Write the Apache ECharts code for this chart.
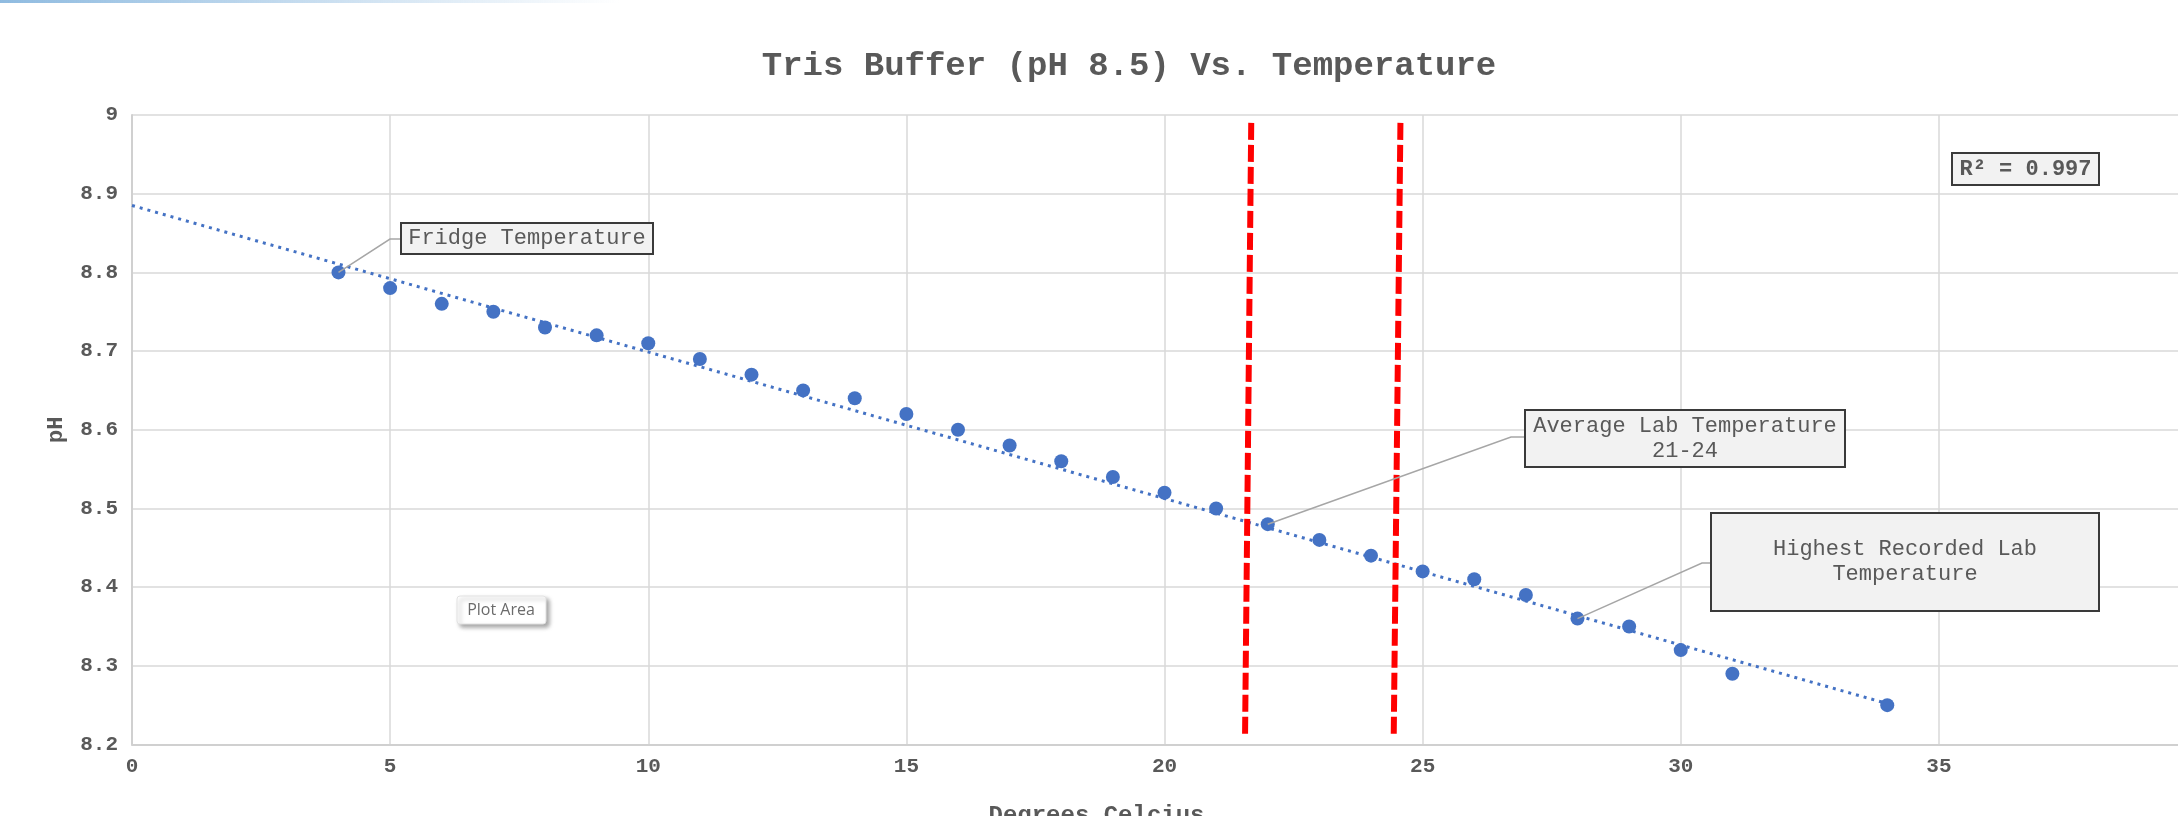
<!DOCTYPE html>
<html>
<head>
<meta charset="utf-8">
<style>
html, body { margin: 0; padding: 0; background: #fff; }
#main { width: 2178px; height: 816px; }
</style>
<script src="https://cdn.jsdelivr.net/npm/echarts@6/dist/echarts.min.js"></script>
</head>
<body>
<div id="main"></div>
<script>
// measured points: temperature (C) and pH
var tempC = [4, 5, 6, 7, 8, 9, 10, 11, 12, 13, 14, 15, 16, 17, 18, 19, 20, 21, 22, 23, 24, 25, 26, 27, 28, 29, 30, 31, 34];
var phValues = [8.80, 8.78, 8.76, 8.75, 8.73, 8.72, 8.71, 8.69, 8.67, 8.65, 8.64, 8.62, 8.60, 8.58, 8.56, 8.54, 8.52, 8.50,
    8.48, 8.46, 8.44, 8.42, 8.41, 8.39, 8.36, 8.35, 8.32, 8.29, 8.25];

// linear trendline ends
var trendTemp = [0, 34];
var trendPH = [8.885, 8.252];

// hand drawn red lab range lines (top end, bottom end)
var labLowTemp = [21.68, 21.56];
var labHighTemp = [24.57, 24.44];
var labLinePH = [8.99, 8.21];

// callouts: text and the point they point at
var calloutText = ['Fridge Temperature', 'Average Lab Temperature\n21-24', 'Highest Recorded Lab\nTemperature'];
var calloutTemp = [4, 22, 28];
var rSquared = 'R\u00b2 = 0.997';

var mono = '"Liberation Mono", "Courier New", monospace';
var grey = '#595959';
var blue = '#4472C4';

var chartDom = document.getElementById('main');
var myChart = echarts.init(chartDom);

function pairs(xs, ys) {
    return xs.map(function (x, i) { return [x, ys[i]]; });
}

var option = {
    animation: false,
    title: {
        text: 'Tris Buffer (pH 8.5) Vs. Temperature',
        left: 1124,
        top: 44,
        textAlign: 'center',
        textStyle: { fontFamily: mono, fontSize: 34, fontWeight: 'bold', color: grey }
    },
    // plot runs past the right edge of the window (cropped screenshot)
    grid: { left: 132, top: 115, right: -19, bottom: 71.5, containLabel: false, outerBoundsMode: 'none' },
    xAxis: {
        type: 'value',
        min: 0,
        max: 40,
        interval: 5,
        name: 'Degrees Celcius',
        nameLocation: 'middle',
        nameGap: 59,
        nameTextStyle: { fontFamily: mono, fontSize: 24, fontWeight: 'bold', color: grey, padding: [0, 136, 0, 0] },
        axisLine: { show: true, lineStyle: { color: '#d0d0d0', width: 2 } },
        axisTick: { show: false },
        axisLabel: { margin: 12, fontFamily: mono, fontSize: 21, fontWeight: 'bold', color: grey },
        splitLine: { show: true, lineStyle: { color: '#d9d9d9', width: 1.5 } }
    },
    yAxis: {
        type: 'value',
        min: 8.2,
        max: 9,
        interval: 0.1,
        name: 'pH',
        nameLocation: 'middle',
        nameGap: 65,
        nameTextStyle: { fontFamily: mono, fontSize: 22, fontWeight: 'bold', color: grey },
        axisLine: { show: true, lineStyle: { color: '#d0d0d0', width: 2 } },
        axisTick: { show: false },
        axisLabel: {
            margin: 14, fontFamily: mono, fontSize: 21, fontWeight: 'bold', color: grey,
            formatter: function (v) { return String(Math.round(v * 10) / 10); }
        },
        splitLine: { show: true, lineStyle: { color: '#d9d9d9', width: 1.5 } }
    },
    series: [{
        name: 'pH',
        type: 'scatter',
        data: pairs(tempC, phValues),
        symbolSize: 14,
        itemStyle: { color: blue, opacity: 1 },
        z: 4
    }, {
        name: 'trend',
        type: 'line',
        data: pairs(trendTemp, trendPH),
        symbol: 'none',
        lineStyle: { color: blue, width: 3, type: [3, 5] },
        z: 3
    }, {
        name: 'lab low',
        type: 'line',
        data: pairs(labLowTemp, labLinePH),
        symbol: 'none',
        lineStyle: { color: '#ff0000', width: 6, type: [17, 5] },
        z: 5
    }, {
        name: 'lab high',
        type: 'line',
        data: pairs(labHighTemp, labLinePH),
        symbol: 'none',
        lineStyle: { color: '#ff0000', width: 6, type: [17, 5] },
        z: 5
    }]
};

myChart.setOption(option);

// callout boxes (pixel layout) : [x, y, w, h], knee of leader line
var calloutBoxes = [[401, 223, 252, 31], [1525, 410, 320, 57], [1711, 513, 388, 98]];
var calloutKnees = [[390, 239], [1511, 437], [1702, 563]];

function boxText(box, text, bold) {
    return {
        type: 'text',
        x: box[0] + box[2] / 2,
        y: box[1] + box[3] / 2,
        z: 20,
        silent: true,
        style: {
            text: text,
            fill: grey,
            font: (bold ? 'bold ' : '') + '22px ' + mono,
            lineHeight: 25,
            align: 'center', verticalAlign: 'middle',
            textAlign: 'center', textVerticalAlign: 'middle'
        }
    };
}
function boxRect(box) {
    return {
        type: 'rect',
        z: 19,
        silent: true,
        shape: { x: box[0], y: box[1], width: box[2], height: box[3] },
        style: { fill: '#f2f2f2', stroke: '#3a3a3a', lineWidth: 2 }
    };
}

var graphics = [];
// light blue strip at the top left of the window
graphics.push({
    type: 'rect', silent: true, z: 1,
    shape: { x: 0, y: 0, width: 620, height: 3 },
    style: {
        fill: new echarts.graphic.LinearGradient(0, 0, 1, 0, [
            { offset: 0, color: '#8fbbe0' }, { offset: 1, color: 'rgba(143,187,224,0)' }
        ])
    }
});

calloutText.forEach(function (txt, i) {
    var idx = tempC.indexOf(calloutTemp[i]);
    var p = myChart.convertToPixel({ seriesIndex: 0 }, [tempC[idx], phValues[idx]]);
    var box = calloutBoxes[i];
    var knee = calloutKnees[i];
    graphics.push({
        type: 'polyline', silent: true, z: 18,
        shape: { points: [p, knee, [box[0], knee[1]]] },
        style: { stroke: '#a6a6a6', lineWidth: 1.5, fill: null }
    });
    graphics.push(boxRect(box));
    graphics.push(boxText(box, txt, false));
});

// R squared label
var rBox = [1952, 153, 147, 32];
graphics.push(boxRect(rBox));
graphics.push(boxText(rBox, rSquared, true));

// "Plot Area" hover tip
graphics.push({
    type: 'rect', silent: true, z: 21,
    shape: { x: 457, y: 596, width: 89, height: 28, r: 3 },
    style: {
        fill: '#ffffff', stroke: '#e2e2e2', lineWidth: 1,
        shadowBlur: 4, shadowOffsetX: 3, shadowOffsetY: 3, shadowColor: 'rgba(0,0,0,0.35)'
    }
});
graphics.push({
    type: 'text', silent: true, z: 22,
    x: 501, y: 610,
    style: {
        text: 'Plot Area', fill: '#6b6b6b', font: '16px "Open Sans", "Noto Sans", sans-serif',
        align: 'center', verticalAlign: 'middle', textAlign: 'center', textVerticalAlign: 'middle'
    }
});

myChart.setOption({ graphic: graphics });
</script>
</body>
</html>
